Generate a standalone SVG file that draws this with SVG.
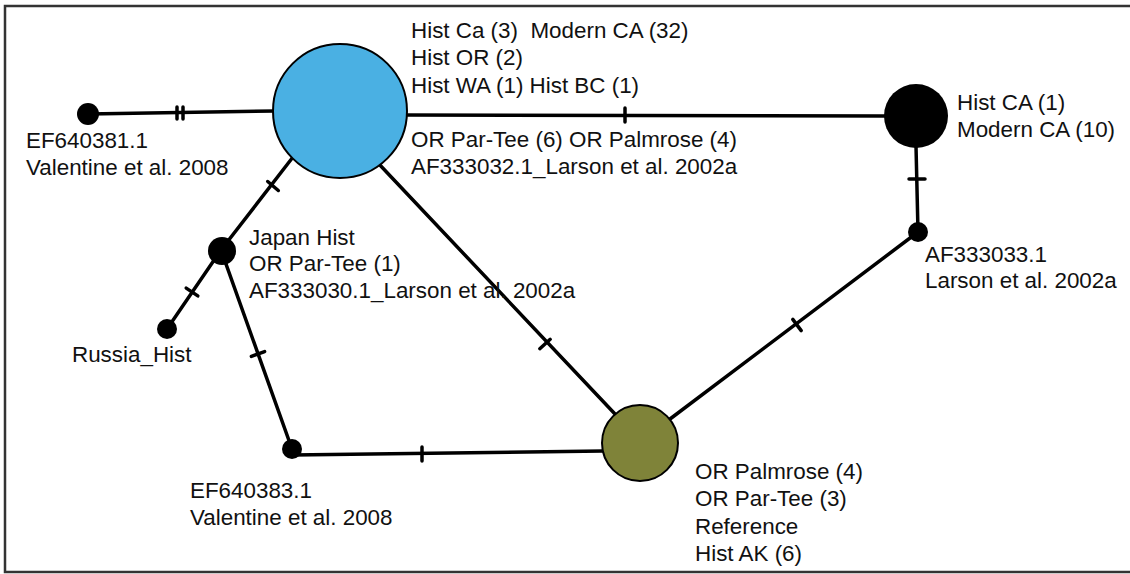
<svg xmlns="http://www.w3.org/2000/svg" width="1130" height="574" viewBox="0 0 1130 574">
<style>
.lbl{font-family:"Liberation Sans",Arial,sans-serif;font-size:22.4px;fill:#111}
.edge{stroke:#000;stroke-width:3.5;fill:none;stroke-linecap:round}
.tick{stroke:#000;stroke-width:3.5;stroke-linecap:round}
.node{stroke:#000;stroke-width:2}
.dot{fill:#000}
</style>
<rect x="0" y="0" width="1130" height="574" fill="#fff"/>
<path d="M1135 6 H5 V572 H1135" fill="none" stroke="#333" stroke-width="2.5"/>
<g id="connectors">
<line class="edge" x1="88" y1="114" x2="275" y2="111"/>
<line class="tick" x1="177" y1="107" x2="177" y2="119"/>
<line class="tick" x1="183" y1="107" x2="183" y2="119"/>
<line class="edge" x1="405" y1="115" x2="886" y2="116"/>
<line class="tick" x1="625" y1="108" x2="625" y2="122"/>
<line class="edge" x1="916" y1="146" x2="918" y2="232"/>
<line class="tick" x1="909" y1="179" x2="925" y2="179"/>
<line class="edge" x1="918" y1="232" x2="670" y2="419"/>
<line class="tick" x1="792.8" y1="319.4" x2="801.2" y2="330.6"/>
<line class="edge" x1="378" y1="163" x2="615" y2="414"/>
<line class="tick" x1="539.8" y1="348.7" x2="550.2" y2="339.3"/>
<line class="edge" x1="293" y1="157" x2="221" y2="250"/>
<line class="tick" x1="267.7" y1="181.5" x2="278.3" y2="190.5"/>
<line class="edge" x1="221" y1="250" x2="167" y2="329"/>
<line class="tick" x1="186.2" y1="288.1" x2="197.8" y2="295.9"/>
<line class="edge" x1="221" y1="250" x2="292" y2="449"/>
<line class="tick" x1="251.4" y1="356.4" x2="264.6" y2="351.6"/>
<line class="edge" x1="292" y1="455" x2="603" y2="451"/>
<line class="tick" x1="422" y1="447" x2="422" y2="461"/>
</g>
<g id="node-main">
<circle class="node" cx="340" cy="111" r="67" fill="#4AB0E3"/>
<text class="lbl" x="411" y="38" xml:space="preserve">Hist Ca (3)  Modern CA (32)</text>
<text class="lbl" x="411" y="65">Hist OR (2)</text>
<text class="lbl" x="411" y="93">Hist WA (1) Hist BC (1)</text>
<text class="lbl" x="411" y="147">OR Par-Tee (6) OR Palmrose (4)</text>
<text class="lbl" x="411" y="174">AF333032.1_Larson et al. 2002a</text>
</g>
<g id="node-ef640381">
<circle class="dot" cx="88" cy="114" r="11"/>
<text class="lbl" x="26" y="148">EF640381.1</text>
<text class="lbl" x="26" y="175">Valentine et al. 2008</text>
</g>
<g id="node-histca">
<circle class="dot" cx="916" cy="116" r="32"/>
<text class="lbl" x="957" y="110">Hist CA (1)</text>
<text class="lbl" x="957" y="137">Modern CA (10)</text>
</g>
<g id="node-af333033">
<circle class="dot" cx="918" cy="232" r="10"/>
<text class="lbl" x="925" y="262">AF333033.1</text>
<text class="lbl" x="925" y="288">Larson et al. 2002a</text>
</g>
<g id="node-japan">
<circle class="dot" cx="222" cy="251" r="14"/>
<text class="lbl" x="249" y="245">Japan Hist</text>
<text class="lbl" x="249" y="271">OR Par-Tee (1)</text>
<text class="lbl" x="249" y="298">AF333030.1_Larson et al. 2002a</text>
</g>
<g id="node-russia">
<circle class="dot" cx="167" cy="329" r="10"/>
<text class="lbl" x="72" y="362">Russia_Hist</text>
</g>
<g id="node-ef640383">
<circle class="dot" cx="292" cy="449" r="10"/>
<text class="lbl" x="190" y="498">EF640383.1</text>
<text class="lbl" x="190" y="525">Valentine et al. 2008</text>
</g>
<g id="node-reference">
<circle class="node" cx="640" cy="443" r="38" fill="#7F8339"/>
<text class="lbl" x="695" y="479">OR Palmrose (4)</text>
<text class="lbl" x="695" y="506">OR Par-Tee (3)</text>
<text class="lbl" x="695" y="534">Reference</text>
<text class="lbl" x="695" y="561">Hist AK (6)</text>
</g>
</svg>
